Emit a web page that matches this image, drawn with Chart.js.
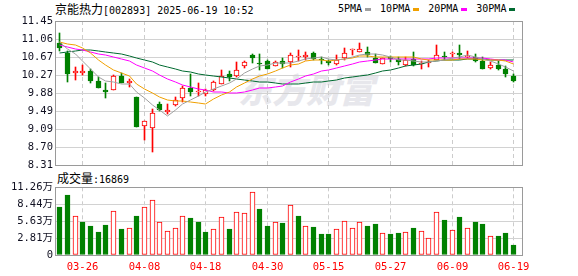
<!DOCTYPE html>
<html>
<head>
<meta charset="utf-8">
<script src="https://cdn.jsdelivr.net/npm/chart.js@4"></script>
<style>
    body { margin: 0; background: #fff; width: 578px; height: 276px; overflow: hidden; position: relative; }
    .abs { position: absolute; white-space: nowrap; }
    .cn { font-family: "Noto Sans CJK SC", sans-serif; font-size: 12px; }
    .num { font-family: "DejaVu Sans Mono", monospace; font-size: 10px; }
    #title { left: 55px; top: 1px; line-height: 16px; color: #000; }
    #legend { left: 338px; top: 1px; line-height: 16px; display: flex; align-items: center; }
    #legend .sw { display: inline-block; width: 6px; height: 3px; margin: 0 9px 0 3px; }
    #volTitle { left: 57px; top: 170px; line-height: 16px; color: #000; }
    #mark { left: 238px; top: 64px; font-family: "Noto Sans CJK SC", sans-serif; font-size: 34px; font-weight: 900; color: #e7e7ec; letter-spacing: 0px; font-style: italic; }
    canvas { position: absolute; left: 0; }
    #kline { top: 0; }
    #vol { top: 178px; }
</style>
</head>
<body>
<div id="mark" class="abs">东方财富</div>
<div id="title" class="abs"><span class="cn">京能热力</span><span class="num">[002893] 2025-06-19 10:52</span></div>
<div id="legend" class="abs num"></div>
<div id="volTitle" class="abs"><span class="cn">成交量</span><span class="num">:16869</span></div>
<canvas id="kline" width="578" height="178"></canvas>
<canvas id="vol" width="578" height="98"></canvas>

<script>
// --- data ---
const dates = ["03-21", "03-24", "03-25", "03-26", "03-27", "03-28", "03-31", "04-01", "04-02", "04-03",
    "04-07", "04-08", "04-09", "04-10", "04-11", "04-14", "04-15", "04-16", "04-17", "04-18",
    "04-21", "04-22", "04-23", "04-24", "04-25", "04-28", "04-29", "04-30", "05-06", "05-07",
    "05-08", "05-09", "05-12", "05-13", "05-14", "05-15", "05-16", "05-19", "05-20", "05-21",
    "05-22", "05-23", "05-26", "05-27", "05-28", "05-29", "05-30", "06-03", "06-04", "06-05",
    "06-06", "06-09", "06-10", "06-11", "06-12", "06-13", "06-16", "06-17", "06-18", "06-19"];

const openP = [10.97, 10.76, 10.32, 10.32, 10.36, 10.15, 9.94, 9.94, 10.26, 10.09,
    9.80, 9.15, 9.12, 9.64, 9.46, 9.62, 9.77, 9.98, 9.90, 9.85,
    9.94, 10.08, 10.30, 10.26, 10.46, 10.71, 10.54, 10.57, 10.46, 10.58,
    10.55, 10.66, 10.67, 10.75, 10.63, 10.58, 10.51, 10.64, 10.81, 10.78,
    10.78, 10.65, 10.52, 10.66, 10.63, 10.49, 10.63, 10.51, 10.53, 10.61,
    10.68, 10.73, 10.76, 10.67, 10.67, 10.58, 10.43, 10.49, 10.40, 10.24];
const highP = [11.19, 10.79, 10.45, 10.49, 10.41, 10.22, 10.10, 10.28, 10.32, 10.19,
    9.80, 9.28, 9.54, 9.69, 9.64, 9.79, 10.03, 10.30, 10.10, 9.96,
    10.15, 10.39, 10.35, 10.55, 10.58, 10.74, 10.72, 10.60, 10.57, 10.65,
    10.76, 10.81, 10.77, 10.77, 10.67, 10.61, 10.70, 10.86, 10.85, 10.96,
    10.89, 10.73, 10.65, 10.68, 10.67, 10.66, 10.78, 10.57, 10.61, 10.92,
    10.77, 10.78, 10.92, 10.80, 10.73, 10.67, 10.55, 10.57, 10.47, 10.30];
const lowP = [10.79, 10.11, 10.16, 10.28, 10.09, 9.98, 9.78, 9.94, 10.10, 10.00,
    9.13, 8.85, 8.59, 9.48, 9.42, 9.59, 9.69, 9.81, 9.81, 9.82,
    9.92, 10.08, 10.14, 10.23, 10.42, 10.54, 10.39, 10.41, 10.46, 10.43,
    10.44, 10.58, 10.60, 10.60, 10.51, 10.49, 10.49, 10.61, 10.70, 10.78,
    10.66, 10.54, 10.52, 10.55, 10.49, 10.47, 10.47, 10.41, 10.45, 10.60,
    10.60, 10.67, 10.63, 10.64, 10.55, 10.41, 10.40, 10.38, 10.23, 10.12];
const closeP = [10.86, 10.30, 10.37, 10.37, 10.15, 9.98, 9.90, 10.26, 10.10, 10.15,
    9.13, 9.26, 9.45, 9.52, 9.52, 9.73, 9.98, 9.91, 9.92, 9.94,
    10.12, 10.25, 10.23, 10.38, 10.55, 10.65, 10.52, 10.41, 10.55, 10.52,
    10.70, 10.68, 10.70, 10.63, 10.60, 10.53, 10.60, 10.76, 10.82, 10.83,
    10.70, 10.54, 10.64, 10.63, 10.56, 10.60, 10.49, 10.53, 10.55, 10.70,
    10.67, 10.74, 10.70, 10.68, 10.58, 10.41, 10.49, 10.41, 10.30, 10.15];

// volume in 万 (10k), and whether the volume bar is an up (red) day
const volume = [8.03, 10.0, 6.50, 5.41, 4.75, 3.77, 4.92, 7.32, 4.26, 4.54,
    6.56, 7.98, 9.13, 5.41, 3.93, 4.54, 6.50, 6.23, 5.46, 3.77,
    4.37, 6.34, 4.26, 7.16, 7.05, 10.44, 7.70, 4.75, 5.41, 5.25,
    8.36, 6.56, 4.86, 4.59, 3.44, 3.44, 4.37, 5.68, 4.54, 5.52,
    4.75, 5.08, 3.72, 3.44, 3.61, 3.88, 4.43, 4.04, 2.90, 7.16,
    5.90, 4.21, 6.39, 4.54, 5.41, 5.08, 3.22, 3.11, 3.61, 1.6869];
const volUp = [0, 0, 1, 0, 0, 0, 0, 1, 0, 1,
    0, 1, 1, 1, 1, 1, 1, 0, 0, 0,
    1, 1, 0, 1, 1, 1, 0, 0, 1, 0,
    1, 0, 1, 0, 0, 0, 1, 1, 1, 1,
    0, 0, 1, 0, 0, 1, 0, 1, 1, 1,
    0, 1, 0, 1, 0, 0, 1, 0, 0, 0];

const ma5 = [10.99, 10.84, 10.72, 10.57, 10.41, 10.23, 10.15, 10.13, 10.08, 10.08,
    9.91, 9.78, 9.62, 9.50, 9.38, 9.50, 9.64, 9.73, 9.81, 9.90,
    9.97, 10.03, 10.09, 10.18, 10.31, 10.41, 10.47, 10.50, 10.54, 10.53,
    10.54, 10.57, 10.63, 10.65, 10.66, 10.63, 10.61, 10.62, 10.66, 10.71,
    10.74, 10.73, 10.71, 10.67, 10.61, 10.59, 10.58, 10.56, 10.55, 10.57,
    10.59, 10.64, 10.67, 10.70, 10.67, 10.62, 10.57, 10.51, 10.44, 10.35];
const ma10 = [10.99, 10.95, 10.92, 10.86, 10.75, 10.61, 10.48, 10.38, 10.32, 10.24,
    10.07, 9.97, 9.88, 9.79, 9.73, 9.70, 9.71, 9.68, 9.66, 9.64,
    9.74, 9.83, 9.91, 10.00, 10.10, 10.19, 10.25, 10.30, 10.36, 10.42,
    10.48, 10.52, 10.57, 10.59, 10.60, 10.58, 10.59, 10.63, 10.65, 10.69,
    10.69, 10.67, 10.67, 10.67, 10.66, 10.67, 10.66, 10.63, 10.61, 10.59,
    10.59, 10.61, 10.62, 10.62, 10.62, 10.61, 10.61, 10.59, 10.57, 10.51];
const ma20 = [10.92, 10.88, 10.85, 10.81, 10.78, 10.74, 10.70, 10.66, 10.62, 10.57,
    10.50, 10.43, 10.36, 10.28, 10.19, 10.11, 10.05, 10.00, 9.97, 9.94,
    9.90, 9.90, 9.89, 9.89, 9.91, 9.95, 9.98, 9.99, 10.01, 10.03,
    10.11, 10.18, 10.24, 10.30, 10.35, 10.39, 10.42, 10.46, 10.51, 10.55,
    10.58, 10.60, 10.62, 10.63, 10.63, 10.63, 10.63, 10.63, 10.63, 10.64,
    10.64, 10.64, 10.64, 10.64, 10.64, 10.64, 10.63, 10.61, 10.59, 10.55];
const ma30 = [10.76, 10.78, 10.80, 10.81, 10.81, 10.80, 10.78, 10.76, 10.73, 10.69,
    10.65, 10.60, 10.55, 10.50, 10.45, 10.40, 10.36, 10.33, 10.30, 10.27,
    10.25, 10.23, 10.21, 10.19, 10.17, 10.15, 10.13, 10.11, 10.09, 10.08,
    10.07, 10.08, 10.09, 10.11, 10.13, 10.15, 10.17, 10.20, 10.23, 10.26,
    10.28, 10.31, 10.35, 10.39, 10.43, 10.46, 10.49, 10.52, 10.55, 10.57,
    10.59, 10.60, 10.61, 10.62, 10.62, 10.62, 10.61, 10.61, 10.60, 10.60];

const maNames = ["5PMA", "10PMA", "20PMA", "30PMA"];
const maColors = ["#a0a0a0", "#f0a000", "#ff00ff", "#006a30"];

const priceTicks = [8.31, 8.70, 9.09, 9.49, 9.88, 10.27, 10.67, 11.06, 11.45];
const priceTickLabels = ["8.31", "8.70", "9.09", "9.49", "9.88", "10.27", "10.67", "11.06", "11.45"];
const volTicks = [0, 2.815, 5.63, 8.445, 11.26];
const volTickLabels = ["0", "2.81万", "5.63万", "8.44万", "11.26万"];
const xTickIdx = [3, 11, 19, 27, 35, 43, 51, 59];

const RED = "#ff0000";
const GREEN = "#008000";
const TICK_FONT = { family: "'DejaVu Sans Mono', 'Noto Sans CJK SC', monospace", size: 10.5 };

// legend
const legend = document.getElementById("legend");
maNames.forEach((name, k) => {
    const t = document.createElement("span");
    t.textContent = name;
    const sw = document.createElement("span");
    sw.className = "sw";
    sw.style.background = maColors[k];
    legend.appendChild(t);
    legend.appendChild(sw);
});

// linear scales snapped to whole pixels so 1px wicks stay crisp
class SnapX extends Chart.LinearScale {
    getPixelForValue(v) { return Math.round(super.getPixelForValue(v) - 0.5) + 0.5; }
}
SnapX.id = "snapX";
SnapX.defaults = Chart.LinearScale.defaults;
class SnapY extends Chart.LinearScale {
    getPixelForValue(v) { return Math.round(super.getPixelForValue(v)); }
}
SnapY.id = "snapY";
SnapY.defaults = Chart.LinearScale.defaults;
Chart.register(SnapX, SnapY);

const frame = {
    id: "frame",
    afterDraw(chart) {
        const a = chart.chartArea;
        const ctx = chart.ctx;
        ctx.save();
        ctx.strokeStyle = "#9a9a9a";
        ctx.lineWidth = 1;
        const l = Math.round(a.left) - 0.5, r = Math.round(a.right) + 0.5;
        const t = Math.round(a.top) + 0.5, b = Math.round(a.bottom) + 0.5;
        ctx.strokeRect(l, t, r - l, b - t);
        ctx.restore();
    }
};

const idx = dates.map((d, i) => i);
const isUp = idx.map(i => closeP[i] >= openP[i]);

function xScale(showLabels) {
    return {
        type: "snapX",
        min: -0.5,
        max: 60.1,
        offset: false,
        afterBuildTicks: s => { s.ticks = xTickIdx.map(v => ({ value: v })); },
        afterFit: s => { s.height = showLabels ? 21 : 0; },
        ticks: {
            display: showLabels,
            autoSkip: false,
            maxRotation: 0,
            padding: 6,
            color: RED,
            font: { family: "'DejaVu Sans Mono', monospace", size: 10.5 },
            callback: v => dates[v]
        },
        grid: { color: "#cccccc", drawTicks: false, offset: false },
        border: { display: false, dash: [4, 3] }
    };
}

function yScale(min, max, ticks, labels) {
    return {
        type: "snapY",
        min: min,
        max: max,
        afterBuildTicks: s => { s.ticks = ticks.map(v => ({ value: v })); },
        afterFit: s => { s.width = 56; },
        ticks: { color: "#111122", font: TICK_FONT, padding: 3, callback: (v, i) => labels[i] },
        grid: { color: "#d2d2d2", drawTicks: false },
        border: { display: false }
    };
}

const maSets = [ma5, ma10, ma20, ma30].map((arr, k) => ({
    type: "line",
    label: maNames[k],
    data: idx.map(i => ({ x: i, y: arr[i] })),
    borderColor: maColors[k],
    borderWidth: 1,
    pointRadius: 0,
    tension: 0,
    order: 0
}));

new Chart(document.getElementById("kline"), {
    type: "bar",
    data: {
        datasets: [
            ...maSets,
            {
                label: "body",
                data: idx.map(i => ({ x: i, y: [openP[i], closeP[i]] })),
                backgroundColor: c => isUp[c.dataIndex] ? "#ffffff" : GREEN,
                borderColor: c => isUp[c.dataIndex] ? RED : GREEN,
                borderWidth: 1,
                borderSkipped: false,
                barThickness: 5,
                minBarLength: 1,
                grouped: false,
                order: 1
            },
            {
                label: "wick",
                data: idx.map(i => ({ x: i, y: [lowP[i], highP[i]] })),
                backgroundColor: c => isUp[c.dataIndex] ? RED : GREEN,
                borderWidth: 0,
                barThickness: 1,
                grouped: false,
                order: 2
            }
        ]
    },
    options: {
        responsive: false,
        animation: false,
        events: [],
        layout: { padding: { left: 0, right: 56, top: 21, bottom: 13 } },
        plugins: { legend: { display: false }, tooltip: { enabled: false } },
        scales: {
            x: xScale(false),
            y: yScale(8.31, 11.45, priceTicks, priceTickLabels)
        }
    },
    plugins: [frame]
});

new Chart(document.getElementById("vol"), {
    type: "bar",
    data: {
        datasets: [{
            label: "volume",
            data: idx.map(i => ({ x: i, y: volume[i] })),
            backgroundColor: c => volUp[c.dataIndex] ? "#ffffff" : GREEN,
            borderColor: c => volUp[c.dataIndex] ? RED : GREEN,
            borderWidth: 1,
            borderSkipped: false,
            barThickness: 5,
            grouped: false
        }]
    },
    options: {
        responsive: false,
        animation: false,
        events: [],
        layout: { padding: { left: 0, right: 56, top: 8, bottom: 0 } },
        plugins: { legend: { display: false }, tooltip: { enabled: false } },
        scales: {
            x: xScale(true),
            y: yScale(0, 11.26, volTicks, volTickLabels)
        }
    },
    plugins: [frame]
});
</script>
</body>
</html>
